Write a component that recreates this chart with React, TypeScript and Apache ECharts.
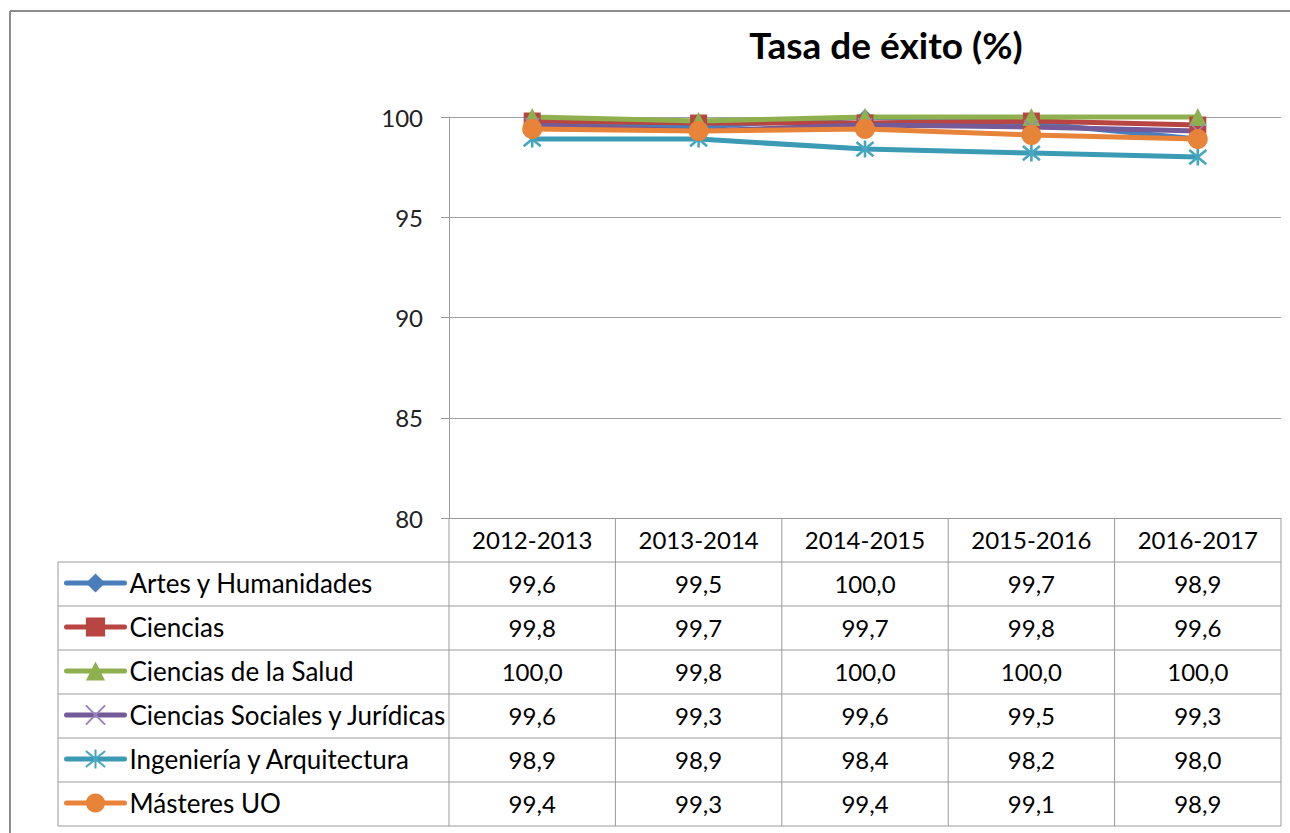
import React, { useEffect, useRef } from "react";
import * as echarts from "echarts";

const years = ["2012-2013", "2013-2014", "2014-2015", "2015-2016", "2016-2017"];
const seriesNames = [
  "Artes y Humanidades",
  "Ciencias",
  "Ciencias de la Salud",
  "Ciencias Sociales y Jurídicas",
  "Ingeniería y Arquitectura",
  "Másteres UO",
];
const artes = [99.6, 99.5, 100.0, 99.7, 98.9];
const ciencias = [99.8, 99.7, 99.7, 99.8, 99.6];
const salud = [100.0, 99.8, 100.0, 100.0, 100.0];
const sociales = [99.6, 99.3, 99.6, 99.5, 99.3];
const ingenieria = [98.9, 98.9, 98.4, 98.2, 98.0];
const masteres = [99.4, 99.3, 99.4, 99.1, 98.9];
const yTicks = { min: 80, max: 100, interval: 5 };

const allValues = [artes, ciencias, salud, sociales, ingenieria, masteres];
const colors = ["#4A7EBB", "#B84542", "#8FB04E", "#745A98", "#3B9BB4", "#E8833A"];

const FONT = "Lato, Carlito, 'Liberation Sans', sans-serif";
const W = 1290;
const H = 833;
const gridLeft = 449;
const gridRight = 1281;
const gridTop = 117;
const gridBottom = 518;
const tableLeft = 58;
const rowH = 44;
const headerH = 44;

export default function App() {
  const ref = useRef<HTMLDivElement>(null);
  useEffect(() => {
    if (!ref.current) return;
    const chart = echarts.init(ref.current, undefined, { renderer: "svg" });
    const colW = (gridRight - gridLeft) / years.length;
    const bodyTop = gridBottom + headerH;
    const tableBottom = bodyTop + rowH * seriesNames.length;
    const lineStyle = { stroke: "#9a9a9a", lineWidth: 1 };
    const graphics: any[] = [];
    // outer frame (top and left edges visible)
    graphics.push({
      type: "line",
      shape: { x1: 10, y1: 11, x2: W, y2: 11 },
      style: { stroke: "#8c8c8c", lineWidth: 2 },
      silent: true,
    });
    graphics.push({
      type: "line",
      shape: { x1: 10, y1: 11, x2: 10, y2: H },
      style: { stroke: "#8c8c8c", lineWidth: 2 },
      silent: true,
    });
    // horizontal table lines
    for (let r = 0; r <= seriesNames.length; r++) {
      const y = bodyTop + r * rowH;
      graphics.push({
        type: "line",
        shape: { x1: tableLeft, y1: y, x2: gridRight, y2: y },
        style: lineStyle,
        silent: true,
      });
    }
    // vertical lines
    graphics.push({
      type: "line",
      shape: { x1: tableLeft, y1: bodyTop, x2: tableLeft, y2: tableBottom },
      style: lineStyle,
      silent: true,
    });
    for (let c = 0; c <= years.length; c++) {
      const x = gridLeft + c * colW;
      graphics.push({
        type: "line",
        shape: { x1: x, y1: gridBottom, x2: x, y2: tableBottom },
        style: lineStyle,
        silent: true,
      });
    }
    // values
    allValues.forEach((vals, r) => {
      vals.forEach((v, c) => {
        graphics.push({
          type: "text",
          x: gridLeft + (c + 0.5) * colW,
          y: bodyTop + (r + 0.5) * rowH - 1,
          silent: true,
          style: {
            text: v.toFixed(1).replace(".", ","),
            fontSize: 24,
            fontFamily: FONT,
            fill: "#000",
            align: "center",
            verticalAlign: "middle",
          },
        });
      });
    });

    const symbols = [
      { symbol: "diamond", size: 16 },
      { symbol: "rect", size: 17 },
      { symbol: "triangle", size: 18 },
      { symbol: "path://M0,0L10,10M10,0L0,10", size: 14 },
      { symbol: "path://M0,0L10,10M10,0L0,10M5,-1L5,11", size: 17 },
      { symbol: "circle", size: 20 },
    ];

    const series = seriesNames.map((name, i) => {
      const isPath = symbols[i].symbol.startsWith("path://");
      return {
        name,
        type: "line",
        data: allValues[i],
        symbol: symbols[i].symbol,
        symbolSize: symbols[i].size,
        clip: false,
        lineStyle: { color: colors[i], width: 5 },
        itemStyle: isPath
          ? {
              color: "none",
              borderColor: i === 3 ? "#9A84C0" : "#45A6BF",
              borderWidth: i === 3 ? 1.6 : 2.6,
            }
          : { color: colors[i], borderWidth: 0 },
        emphasis: { disabled: true },
      };
    });

    chart.setOption({
      animation: false,
      color: colors,
      title: {
        text: "Tasa de éxito (%)",
        left: 881,
        top: 21,
        textAlign: "center",
        textStyle: { fontFamily: FONT, fontSize: 37, fontWeight: "bold", color: "#000" },
      },
      legend: {
        orient: "vertical",
        left: 64,
        top: bodyTop + (rowH - 24) / 2 - 2,
        itemWidth: 58,
        itemHeight: 24,
        itemGap: 18,
        padding: 0,
        selectedMode: false,
        data: seriesNames,
        lineStyle: { width: 5, cap: "round" },
        textStyle: { fontFamily: FONT, fontSize: 26, lineHeight: 24, color: "#000" },
      },
      grid: {
        left: gridLeft,
        right: W - gridRight,
        top: gridTop,
        bottom: H - gridBottom,
        containLabel: false,
      },
      xAxis: {
        type: "category",
        data: years,
        boundaryGap: true,
        axisLine: { show: true, lineStyle: { color: "#9a9a9a", width: 1 } },
        axisTick: { show: false },
        axisLabel: { fontFamily: FONT, fontSize: 24, color: "#000", margin: 9, lineHeight: 24 },
      },
      yAxis: {
        type: "value",
        min: yTicks.min,
        max: yTicks.max,
        interval: yTicks.interval,
        axisLine: { show: true, lineStyle: { color: "#9a9a9a", width: 1 } },
        axisTick: { show: true, length: 8, lineStyle: { color: "#9a9a9a" } },
        axisLabel: { fontFamily: FONT, fontSize: 24, color: "#222", margin: 26 },
        splitLine: { show: true, lineStyle: { color: "#a0a0a0", width: 1 } },
      },
      graphic: graphics,
      series,
    });
    return () => chart.dispose();
  }, []);
  return (
    <div
      ref={ref}
      style={{ position: "fixed", left: 0, top: 0, width: W, height: H, background: "#fff" }}
    />
  );
}
